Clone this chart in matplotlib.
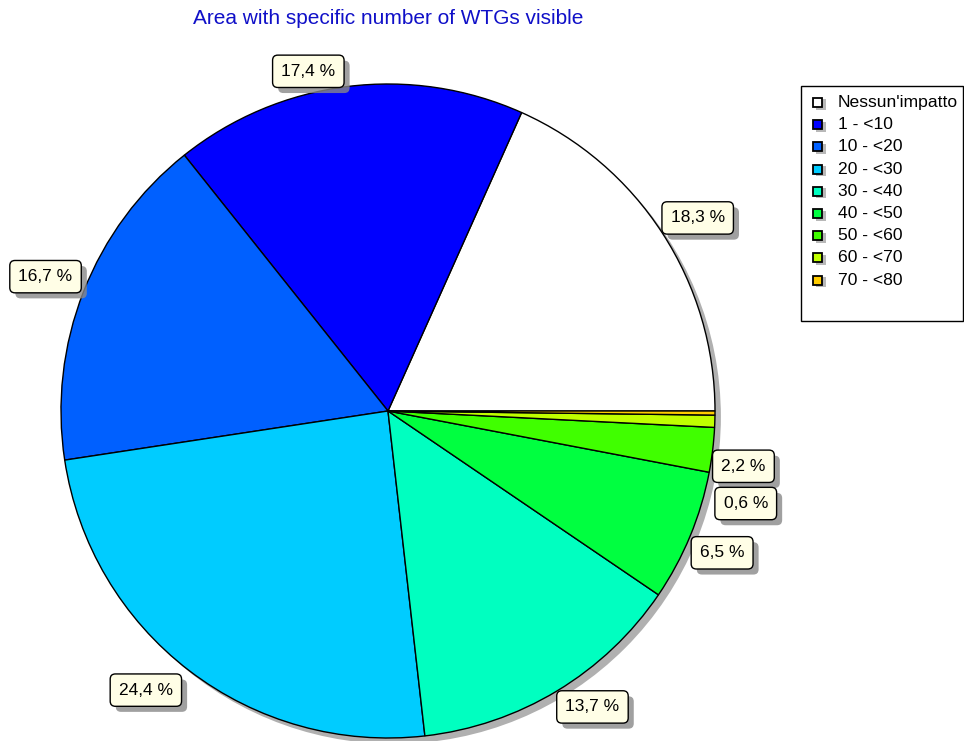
import numpy as np
import matplotlib
matplotlib.use("Agg")
import matplotlib.pyplot as plt
import matplotlib.patheffects as pe
from matplotlib.patches import Rectangle, Circle

plt.rcParams['font.family'] = ['Liberation Sans', 'DejaVu Sans']

categories = ["Nessun'impatto", "1 - <10", "10 - <20", "20 - <30", "30 - <40",
              "40 - <50", "50 - <60", "60 - <70", "70 - <80"]
shares = [18.3, 17.4, 16.7, 24.4, 13.7, 6.5, 2.2, 0.6, 0.2]
labels = ["18,3 %", "17,4 %", "16,7 %", "24,4 %", "13,7 %", "6,5 %", "2,2 %", "0,6 %", None]
colors = ["#ffffff", "#0000ff", "#0060ff", "#00ccff", "#00ffc0",
          "#00ff40", "#40ff00", "#c0ff00", "#ffcc00"]

# label placement tweaks (angle nudge in degrees, radius in pie radii)
nudge = [-1, 6, 0, -3.5, 3.5, -0.5, -2, -12.7, 0]
lab_r = [1.116, 1.067, 1.125, 1.13, 1.10, 1.11, 1.10, 1.13, 1.1]

W, H = 964, 741
fig = plt.figure(figsize=(W / 100, H / 100), dpi=100)
cx, cy, R = 388, 411, 327
ax = fig.add_axes([(cx - R) / W, (H - cy - R) / H, 2 * R / W, 2 * R / H])

# drop shadow of the pie
ax.add_patch(Circle((0.018, -0.018), 1.0, facecolor="#b0b0b0", edgecolor="none",
                    zorder=0, clip_on=False))
wedges, _ = ax.pie(shares, colors=colors, startangle=0, counterclock=True, radius=1.0,
                   wedgeprops=dict(edgecolor="black", linewidth=1.0))
for w in wedges:
    w.set_clip_on(False)
    w.set_zorder(1)
ax.set_xlim(-1, 1)
ax.set_ylim(-1, 1)
ax.set_aspect('equal')
ax.axis('off')

shadow = [pe.SimplePatchShadow(offset=(4, -4), shadow_rgbFace="#888888", alpha=0.8),
          pe.Normal()]
for w, lab, dn, rr in zip(wedges, labels, nudge, lab_r):
    if lab is None:
        continue
    ang = np.deg2rad((w.theta1 + w.theta2) / 2 + dn)
    ax.text(rr * np.cos(ang), rr * np.sin(ang), lab, ha="center", va="center",
            fontsize=12.5, zorder=5, clip_on=False,
            bbox=dict(boxstyle="round,pad=0.5,rounding_size=0.3", facecolor="#fffee6",
                      edgecolor="black", linewidth=1.0, path_effects=shadow))

fig.text(388 / W, 1 - 19 / H, "Area with specific number of WTGs visible",
         color="#1010c8", fontsize=15, ha="center", va="center")

# legend box
fig.patches.append(Rectangle((801 / W, 1 - 321 / H), 162 / W, 235 / H,
                             transform=fig.transFigure, facecolor="white",
                             edgecolor="black", linewidth=1.0))
for i, (cat, col) in enumerate(zip(categories, colors)):
    y = 102.5 + i * 22.2
    fig.patches.append(Rectangle((816 / W, 1 - (y + 7) / H), 10 / W, 10 / H,
                                 transform=fig.transFigure, facecolor="#b8b8b8",
                                 edgecolor="none"))
    fig.patches.append(Rectangle((813 / W, 1 - (y + 4.5) / H), 9 / W, 9 / H,
                                 transform=fig.transFigure, facecolor=col,
                                 edgecolor="black", linewidth=1.3))
    fig.text(838 / W, 1 - y / H, cat, fontsize=12.6, ha="left", va="center")

fig.savefig("out.png", dpi=100)
